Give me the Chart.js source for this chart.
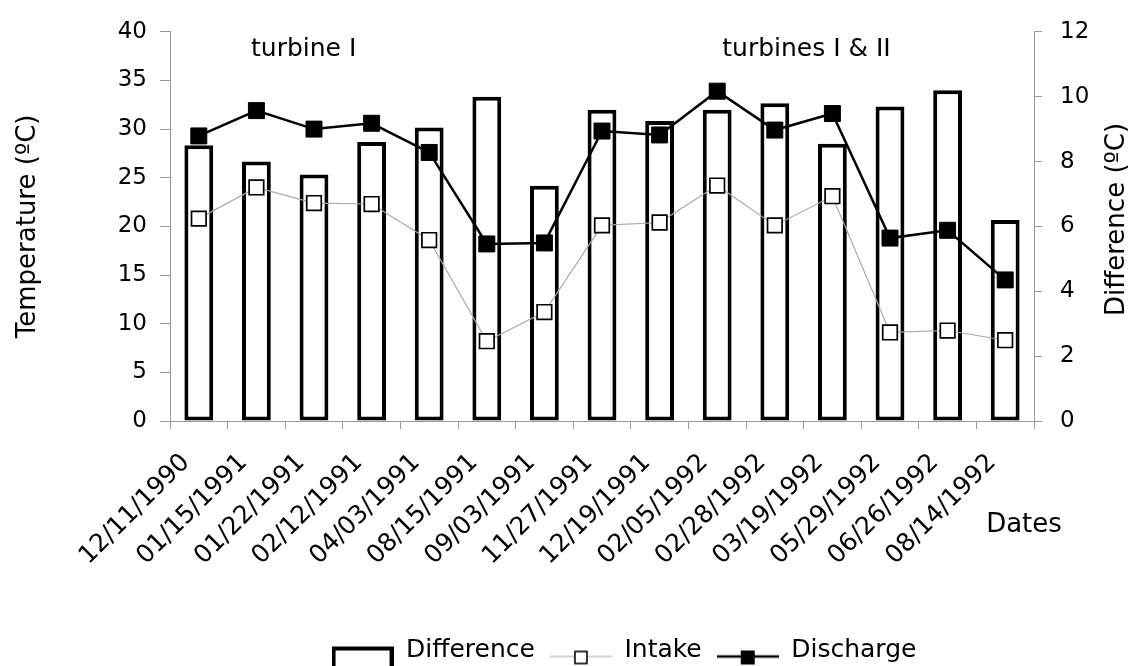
<!DOCTYPE html>
<html><head><meta charset="utf-8">
<script src="https://cdn.jsdelivr.net/npm/chart.js@4.4.1/dist/chart.umd.min.js"></script>
<style>html,body{margin:0;padding:0;background:#fff;}</style>
</head><body>
<canvas id="c" width="1131" height="666"></canvas>
<script>
const categories = ['12/11/1990','01/15/1991','01/22/1991','02/12/1991','04/03/1991','08/15/1991','09/03/1991','11/27/1991','12/19/1991','02/05/1992','02/28/1992','03/19/1992','05/29/1992','06/26/1992','08/14/1992'];
const difference = [8.5, 8.0, 7.6, 8.6, 9.05, 10.0, 7.25, 9.6, 9.25, 9.6, 9.8, 8.55, 9.7, 10.2, 6.2];
const intake = [20.8, 24.0, 22.4, 22.3, 18.6, 8.2, 11.2, 20.1, 20.4, 24.2, 20.1, 23.1, 9.1, 9.3, 8.3];
const discharge = [29.3, 31.9, 30.0, 30.6, 27.6, 18.2, 18.3, 29.8, 29.4, 33.9, 29.9, 31.6, 18.8, 19.6, 14.5];
const seriesNames = ['Difference', 'Intake', 'Discharge'];
const notes = ['turbine I', 'turbines I & II'];
const axisTitles = ['Temperature (ºC)', 'Difference (ºC)', 'Dates'];

const FAM = '"DejaVu Sans"';

function makeSwatch(kind) {
  const c = document.createElement('canvas');
  c.width = 62; c.height = 40;
  const g = c.getContext('2d');
  const cy = 26;
  if (kind === 0) {
    g.fillStyle = '#fff';
    g.fillRect(2, 18, 58, 22);
    g.strokeStyle = '#000'; g.lineWidth = 4;
    g.beginPath(); g.moveTo(2, 40); g.lineTo(2, 18); g.lineTo(60, 18); g.lineTo(60, 40); g.stroke();
  } else if (kind === 1) {
    g.strokeStyle = '#aaa'; g.lineWidth = 1.2;
    g.beginPath(); g.moveTo(0, cy); g.lineTo(62, cy); g.stroke();
    g.fillStyle = '#fff'; g.fillRect(25, cy - 5, 12, 12);
    g.strokeStyle = '#000'; g.lineWidth = 1.6; g.strokeRect(25, cy - 5, 12, 12);
  } else {
    g.strokeStyle = '#000'; g.lineWidth = 2.5;
    g.beginPath(); g.moveTo(0, cy); g.lineTo(62, cy); g.stroke();
    g.fillStyle = '#000'; g.fillRect(24, cy - 6, 14, 14);
  }
  return c;
}
const swatches = [makeSwatch(0), makeSwatch(1), makeSwatch(2)];

const extras = {
  id: 'extras',
  afterLayout(chart) {
    const lg = chart.legend;
    if (lg) {
      const dx = 624 - (lg.left + lg.right) / 2;
      lg.left += dx; lg.right += dx;
      lg.top += 7; lg.bottom += 7;
    }
  },
  afterDraw(chart) {
    const ctx = chart.ctx;
    const xs = chart.scales.x, ys = chart.scales.y;
    const ca = chart.chartArea;
    ctx.save();
    ctx.fillStyle = '#000';
    ctx.font = '25px ' + FAM;
    ctx.textAlign = 'center';
    ctx.textBaseline = 'middle';
    ctx.fillText(notes[0], xs.getPixelForValue(1.82), ys.getPixelForValue(38.2));
    ctx.fillText(notes[1], xs.getPixelForValue(10.55), ys.getPixelForValue(38.2));
    ctx.font = '26px ' + FAM;
    ctx.fillText(axisTitles[2], ca.right - 10, ca.bottom + 104);
    ctx.translate(ca.right + 83, (ca.top + ca.bottom) / 2 - 7);
    ctx.rotate(-Math.PI / 2);
    ctx.fillText(axisTitles[1], 0, 0);
    ctx.restore();
  }
};

const tickFont = {family: FAM, size: 23};

new Chart(document.getElementById('c'), {
  data: {
    labels: categories,
    datasets: [
      {type: 'bar', label: seriesNames[0], data: difference, yAxisID: 'y1',
       backgroundColor: '#fff', borderColor: '#000', borderWidth: 4, borderSkipped: false,
       barPercentage: 0.5, categoryPercentage: 1, order: 3},
      {type: 'line', label: seriesNames[1], data: intake, yAxisID: 'y',
       borderColor: '#aaa', borderWidth: 1.2, pointStyle: 'rect', pointRadius: 10.3,
       pointBackgroundColor: '#fff', pointBorderColor: '#000', pointBorderWidth: 1.7,
       tension: 0, order: 2},
      {type: 'line', label: seriesNames[2], data: discharge, yAxisID: 'y',
       borderColor: '#000', borderWidth: 2.5, pointStyle: 'rect', pointRadius: 11.3,
       pointBackgroundColor: '#000', pointBorderColor: '#000', pointBorderWidth: 1,
       tension: 0, order: 1}
    ]
  },
  options: {
    responsive: false,
    animation: false,
    devicePixelRatio: 1,
    layout: {padding: {left: 10, right: 0, top: 30, bottom: 0}},
    plugins: {
      tooltip: {enabled: false},
      legend: {
        display: true, position: 'bottom',
        labels: {
          usePointStyle: true, pointStyleWidth: 62, padding: 15,
          font: {family: FAM, size: 25}, color: '#000',
          generateLabels: (chart) => seriesNames.map((n, i) => ({
            text: n, pointStyle: swatches[i], datasetIndex: i, hidden: false,
            fillStyle: '#fff', strokeStyle: '#000', lineWidth: 0, fontColor: '#000'
          }))
        }
      }
    },
    scales: {
      x: {
        offset: true,
        grid: {offset: true, drawOnChartArea: false, tickLength: 8, color: '#999'},
        border: {color: '#999', width: 1},
        ticks: {autoSkip: false, maxRotation: 45, minRotation: 45, font: {family: FAM, size: 25}, color: '#000',
                labelOffset: -13, padding: 19},
        afterFit(s) { s.height = 195; }
      },
      y: {
        position: 'left', min: 0, max: 40,
        ticks: {stepSize: 5, font: tickFont, color: '#000', padding: 13},
        grid: {drawOnChartArea: false, tickLength: 10, color: '#999'},
        border: {color: '#999', width: 1},
        title: {display: true, text: axisTitles[0], font: {family: FAM, size: 26}, color: '#000', padding: 3},
        afterFit(s) { s.width = 160; }
      },
      y1: {
        position: 'right', min: 0, max: 12,
        ticks: {stepSize: 2, font: tickFont, color: '#000', padding: 18},
        grid: {drawOnChartArea: false, tickLength: 8, color: '#999'},
        border: {color: '#999', width: 1},
        afterFit(s) { s.width = 97; }
      }
    }
  },
  plugins: [extras]
});
</script>
</body></html>
